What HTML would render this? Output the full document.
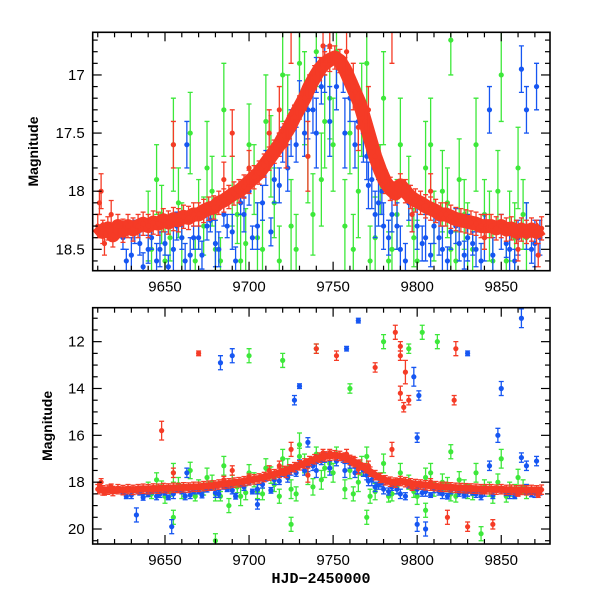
<!DOCTYPE html>
<html><head><meta charset="utf-8"><style>
body{margin:0;background:#fff;}
svg{display:block;font-family:"Liberation Sans",sans-serif;}
.tl{font-size:15px;fill:#000;}
</style></head><body>
<svg id="chart" width="600" height="600"></svg>
<script>
const redT=[9610,9613,9616,9619,9622,9625,9628,9631,9634,9637,9640,9643,9646,9649,9652,9655,9658,9661,9664,9667,9670,9673,9676,9679,9682,9685,9688,9691,9694,9697,9700,9703,9706,9709,9712,9715,9718,9721,9724,9727,9730,9733,9736,9739,9742,9745,9748,9751,9754,9757,9760,9763,9766,9769,9772,9775,9778,9781,9784,9787,9790,9793,9796,9799,9802,9805,9808,9811,9814,9817,9820,9823,9826,9829,9832,9835,9838,9841,9844,9847,9850,9853,9856,9859,9862,9865,9868,9871,9874];
const redM=[18.3,18.35,18.32,18.38,18.3,18.34,18.3,18.33,18.3,18.28,18.3,18.27,18.28,18.25,18.27,18.24,18.25,18.22,18.23,18.2,18.2,18.17,18.15,18.14,18.1,18.08,18.05,18.02,18.0,17.96,17.92,17.88,17.84,17.78,17.72,17.66,17.6,17.52,17.45,17.36,17.28,17.2,17.1,17.02,16.95,16.9,16.87,16.85,16.88,16.95,17.05,17.15,17.25,17.4,17.55,17.7,17.82,17.92,17.98,18.02,17.95,18.0,18.05,18.08,18.1,18.13,18.15,18.17,18.2,18.2,18.22,18.24,18.25,18.26,18.27,18.28,18.3,18.3,18.3,18.32,18.3,18.33,18.32,18.35,18.33,18.35,18.33,18.35,18.32];
const redOutT=[9612,9655,9690,9735,9748,9670,9740,9752,9775,9787,9790,9790,9793,9790,9795,9792,9823,9822,9648,9725,9785,9830,9845,9818,9611,9614,9618,9685,9700,9712,9718,9722,9744,9758,9762,9765,9771,9797,9808,9840,9860,9872];
const redOutM=[18.0,17.6,17.5,17.7,16.75,12.5,12.3,12.6,13.1,11.6,12.2,12.6,13.3,14.2,14.5,14.8,12.3,14.5,15.8,16.6,16.6,19.9,19.8,19.5,18.1,18.45,18.2,17.9,17.8,17.5,17.3,17.6,16.75,16.8,17.1,17.45,17.3,18.2,18.0,18.4,18.5,18.55];
const redOutE=[0.15,0.2,0.2,0.3,0.15,0.1,0.2,0.2,0.2,0.3,0.2,0.2,0.5,0.3,0.2,0.2,0.3,0.2,0.4,0.3,0.3,0.2,0.2,0.3,0.1,0.1,0.12,0.15,0.15,0.2,0.2,0.2,0.15,0.2,0.2,0.2,0.2,0.15,0.15,0.1,0.1,0.1];
const blueT=[9625,9630,9635,9640,9645,9650,9655,9660,9665,9670,9675,9680,9685,9690,9695,9700,9705,9710,9715,9720,9725,9730,9735,9740,9745,9748,9752,9756,9760,9765,9770,9773,9777,9780,9785,9790,9795,9800,9805,9810,9815,9820,9825,9830,9835,9840,9845,9850,9855,9860,9865,9870,9873,9663,9705,9757,9862,9843,9871,9683,9690,9730,9727,9765,9758,9798,9801,9830,9848,9862,9633,9654,9800,9805,9865,9850,9735,9740,9800,9627,9632,9637,9642,9647,9652,9657,9662,9667,9672,9677,9682,9687,9692,9697,9702,9708,9713,9718,9723,9728,9733,9738,9743,9763,9768,9771,9775,9779,9783,9788,9793,9797,9803,9808,9813,9818,9823,9828,9833,9838,9853,9858,9868];
const blueM=[18.4,18.55,18.45,18.5,18.6,18.45,18.5,18.4,18.55,18.4,18.3,18.45,18.2,18.35,18.1,18.0,18.3,17.8,17.9,17.6,17.5,17.2,17.3,17.0,16.95,17.4,17.1,17.0,17.2,17.4,17.7,17.9,18.1,18.3,18.2,18.5,18.1,18.3,18.4,18.3,18.5,18.35,18.45,18.4,18.5,18.4,18.55,18.35,18.5,18.4,18.3,18.45,18.4,17.6,18.95,17.5,16.95,17.3,17.1,12.9,12.6,13.9,14.5,11.1,12.3,13.5,14.3,12.5,16.0,11.0,19.4,19.9,19.8,20.0,17.3,14.0,16.3,17.5,16.1,18.6,18.35,18.65,18.4,18.5,18.65,18.3,18.6,18.4,18.55,18.25,18.5,18.3,18.6,18.2,18.4,18.1,18.35,17.95,17.8,17.6,17.5,17.3,17.1,17.6,17.5,17.95,18.2,18.0,18.4,18.3,18.6,18.2,18.45,18.55,18.4,18.6,18.3,18.55,18.45,18.6,18.45,18.6,18.5];
const blueE=[0.1,0.15,0.1,0.12,0.15,0.1,0.2,0.1,0.15,0.1,0.12,0.2,0.1,0.15,0.1,0.12,0.2,0.15,0.2,0.15,0.2,0.15,0.25,0.15,0.2,0.3,0.2,0.15,0.2,0.2,0.2,0.25,0.2,0.2,0.15,0.2,0.15,0.2,0.2,0.15,0.2,0.15,0.15,0.2,0.15,0.2,0.15,0.15,0.2,0.15,0.2,0.2,0.15,0.2,0.2,0.3,0.2,0.2,0.2,0.3,0.3,0.1,0.2,0.1,0.1,0.4,0.2,0.1,0.3,0.4,0.3,0.3,0.3,0.3,0.2,0.3,0.2,0.3,0.2,0.1,0.1,0.12,0.1,0.15,0.1,0.12,0.15,0.1,0.12,0.1,0.15,0.1,0.12,0.15,0.1,0.15,0.12,0.15,0.2,0.15,0.2,0.2,0.15,0.2,0.25,0.2,0.2,0.2,0.15,0.2,0.15,0.15,0.15,0.1,0.15,0.12,0.15,0.12,0.1,0.15,0.12,0.1,0.12];
const greenT=[9640,9645,9650,9655,9660,9665,9670,9675,9680,9685,9690,9695,9700,9705,9710,9715,9720,9725,9730,9735,9740,9743,9748,9752,9757,9760,9765,9770,9775,9780,9785,9790,9795,9800,9805,9810,9815,9820,9825,9830,9835,9840,9845,9850,9855,9860,9865,9700,9740,9760,9780,9795,9803,9812,9820,9688,9655,9680,9725,9770,9805,9838,9720,9730,9642,9648,9653,9658,9668,9673,9678,9683,9693,9698,9703,9708,9713,9718,9723,9728,9733,9738,9745,9750,9762,9767,9772,9778,9783,9788,9798,9808,9818,9823,9828,9833,9843,9848,9853,9858,9863];
const greenM=[18.3,17.9,18.6,17.6,18.4,17.5,18.2,17.8,18.5,17.3,18.0,18.6,17.6,18.4,17.4,18.1,17.0,18.3,16.9,17.7,16.8,17.9,17.2,16.8,18.3,17.5,18.0,16.9,18.4,17.2,18.5,17.6,18.0,18.6,17.8,18.3,18.0,18.5,17.9,18.4,17.6,18.2,18.6,17.0,18.3,17.8,18.4,12.6,12.3,14.0,12.0,12.3,11.6,12.0,16.7,19.0,19.5,20.5,19.8,19.5,19.2,20.2,12.8,16.4,18.5,18.2,18.4,18.1,18.6,18.3,18.0,18.6,18.2,18.45,17.9,18.5,17.7,18.6,17.4,18.5,17.2,18.2,17.4,17.6,18.5,17.3,18.6,17.9,18.6,18.2,18.4,17.6,18.1,18.6,18.2,18.5,18.3,18.0,18.6,18.4,18.2];
const greenE=[0.3,0.3,0.3,0.4,0.3,0.35,0.3,0.4,0.3,0.4,0.3,0.4,0.35,0.3,0.4,0.3,0.4,0.4,0.35,0.4,0.3,0.4,0.35,0.3,0.4,0.35,0.4,0.4,0.35,0.4,0.3,0.4,0.3,0.35,0.4,0.3,0.35,0.3,0.35,0.3,0.4,0.3,0.3,0.4,0.3,0.35,0.3,0.3,0.2,0.2,0.3,0.2,0.3,0.3,0.3,0.3,0.3,0.3,0.3,0.3,0.3,0.3,0.3,0.5,0.2,0.25,0.2,0.3,0.2,0.25,0.3,0.2,0.25,0.3,0.3,0.25,0.35,0.3,0.4,0.3,0.4,0.35,0.4,0.4,0.3,0.4,0.3,0.3,0.25,0.3,0.25,0.4,0.3,0.25,0.3,0.25,0.3,0.35,0.25,0.3,0.3];
const xTicks=[9650,9700,9750,9800,9850];
const topTicks=[17,17.5,18,18.5];
const botTicks=[12,14,16,18,20];

const NS="http://www.w3.org/2000/svg";
const svg=document.getElementById('chart');
function mk(tag,attrs,parent){const e=document.createElementNS(NS,tag);for(const k in attrs)e.setAttribute(k,attrs[k]);(parent||svg).appendChild(e);return e;}
const X0=92.7,X1=550,T0=9607,T1=9879;
function xs(t){return X0+(t-T0)/(T1-T0)*(X1-X0);}
const panels=[
 {name:'top',y0:32.3,y1:270.7,m0:16.633,m1:18.684,ticks:topTicks,minor:0.1},
 {name:'bottom',y0:307.7,y1:544,m0:10.55,m1:20.64,ticks:botTicks,minor:0.5}
];
const RED='#f53b26',BLUE='#1656f2',GREEN='#3de83a';
panels.forEach((p,pi)=>{
  const ys=m=>p.y0+(m-p.m0)/(p.m1-p.m0)*(p.y1-p.y0);
  const cp=mk('clipPath',{id:'clip'+pi});
  mk('rect',{x:X0,y:p.y0,width:X1-X0,height:p.y1-p.y0},cp);
  const g=mk('g',{'clip-path':'url(#clip'+pi+')'});
  
  
  function series(T,M,E,col,nm){
    const sg=mk('g',{},g);
    
    
    T.forEach((t,i)=>{
      const x=xs(t),y=ys(M[i]),e=E[i];
      const ya=ys(M[i]-e),yb=ys(M[i]+e);
      mk('line',{x1:x,x2:x,y1:ya,y2:yb,stroke:col,'stroke-width':1.3},sg);
      mk('line',{x1:x-2.5,x2:x+2.5,y1:ya,y2:ya,stroke:col,'stroke-width':1.3},sg);
      mk('line',{x1:x-2.5,x2:x+2.5,y1:yb,y2:yb,stroke:col,'stroke-width':1.3},sg);
      const c=mk('circle',{cx:x,cy:y,r:2.6,fill:col},sg);
      
      
    });
  }
  series(greenT,greenM,greenE,GREEN,'green');
  series(blueT,blueM,blueE,BLUE,'blue');
  const pts=redT.map((t,i)=>xs(t)+','+ys(redM[i])).join(' ');
  const band=mk('polyline',{points:pts,fill:'none',stroke:RED,'stroke-width':pi==0?14:7,'stroke-linejoin':'round'},g);
  
  
  series(redT,redM,redT.map(()=>pi==0?0.1:0.2),RED,'red');
  series(redOutT,redOutM,redOutE,RED,'red-outlier');
  const fr=mk('rect',{x:X0,y:p.y0,width:X1-X0,height:p.y1-p.y0,fill:'none',stroke:'#000','stroke-width':1.6});
  
  
  for(let t=9610;t<=9870;t+=10){
    const x=xs(t),maj=(t%50===0),L=maj?9:5;
    mk('line',{x1:x,x2:x,y1:p.y1,y2:p.y1-L,stroke:'#000','stroke-width':1.2});
    mk('line',{x1:x,x2:x,y1:p.y0,y2:p.y0+L,stroke:'#000','stroke-width':1.2});
  }
  xTicks.forEach(t=>{
    const tx=mk('text',{x:xs(t),y:p.y1+21,'text-anchor':'middle',class:'tl'});
    tx.textContent=t;
    
    
  });
  const n=Math.round((p.m1-p.m0)/p.minor)+2;
  for(let k=0;k<n;k++){
    const m=Math.ceil(p.m0/p.minor)*p.minor+k*p.minor;
    if(m>p.m1)break;
    const y=ys(m);
    const maj=p.ticks.some(v=>Math.abs(v-m)<1e-6);
    const L=maj?9:5;
    mk('line',{x1:X0,x2:X0+L,y1:y,y2:y,stroke:'#000','stroke-width':1.2});
    mk('line',{x1:X1,x2:X1-L,y1:y,y2:y,stroke:'#000','stroke-width':1.2});
  }
  p.ticks.forEach(m=>{
    const tx=mk('text',{x:X0-8,y:ys(m)+5,'text-anchor':'end',class:'tl'});
    tx.textContent=m;
    
    
  });
  const yl=mk('text',{x:0,y:0,'text-anchor':'middle',transform:'translate('+(pi==0?38:52)+','+((p.y0+p.y1)/2)+') rotate(-90)',style:'font-size:14px;font-weight:bold'});
  yl.textContent='Magnitude';
  
  
});
const xt=mk('text',{x:321,y:583,'text-anchor':'middle',style:'font-size:15px;font-family:\"Liberation Mono\",monospace;font-weight:bold'});
xt.textContent='HJD\u22122450000';


</script>
</body></html>
